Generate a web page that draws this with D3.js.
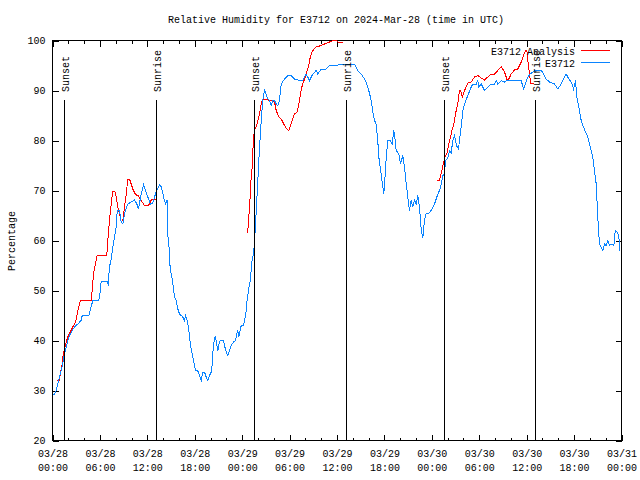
<!DOCTYPE html>
<html>
<head>
<meta charset="utf-8">
<script src="https://cdn.jsdelivr.net/npm/d3@7"></script>
<style>
  body { margin: 0; background: #fff; }
  text { font-family: "Liberation Mono", "DejaVu Sans Mono", monospace; font-size: 10px; fill: #000; }
</style>
</head>
<body>
<svg id="chart" width="640" height="480"></svg>
<script>
// hours after 2024-03-28 00:00 UTC
const stationHours = [0.13,0.47,0.89,1.10,1.30,1.52,1.73,1.94,2.15,2.49,2.78,3.20,3.63,3.76,4.59,4.77,5.10,5.86,6.04,6.16,6.87,7.05,7.21,7.43,7.63,7.85,8.06,8.19,8.48,8.69,8.90,9.11,9.53,9.96,10.38,10.67,10.88,11.22,11.52,11.77,12.06,12.40,12.69,12.91,13.12,13.54,13.79,14.05,14.30,14.51,14.59,14.72,14.81,14.93,15.15,15.31,15.44,15.65,15.86,16.07,16.29,16.49,16.70,16.83,16.99,17.12,17.25,17.42,17.55,17.75,17.88,18.10,18.39,18.60,18.82,19.02,19.23,19.45,19.65,19.87,20.08,20.21,20.37,20.59,20.71,20.92,21.13,21.26,21.64,21.76,21.98,22.18,22.40,22.61,22.90,23.16,23.32,23.45,23.57,23.75,23.88,24.17,24.30,24.51,24.64,24.80,25.02,25.14,25.27,25.43,25.56,25.69,25.85,25.98,26.11,26.28,26.41,26.61,26.83,27.04,27.24,27.46,27.67,27.88,28.09,28.31,28.51,28.72,28.85,28.94,29.36,29.77,30.20,30.62,31.26,31.67,32.10,32.52,32.94,33.37,33.57,34.00,34.63,35.05,35.90,36.32,38.22,38.63,39.06,39.48,39.77,40.02,40.33,40.53,40.75,40.96,41.16,41.29,41.59,41.80,41.92,42.10,42.23,42.43,42.73,42.99,43.19,43.37,43.49,43.82,44.04,44.33,44.54,44.76,44.96,45.17,45.39,45.59,45.81,46.02,46.23,46.44,46.66,46.86,47.07,47.29,47.49,47.92,48.34,48.76,48.97,49.19,49.39,49.60,49.73,50.02,50.24,50.45,50.65,50.87,51.12,51.38,51.54,51.72,51.92,52.13,52.55,52.98,53.19,53.62,53.82,53.95,54.25,54.67,55.08,55.51,55.93,56.15,56.35,56.78,57.20,57.61,58.25,58.88,59.31,59.60,59.85,60.14,60.45,60.78,61.21,61.84,62.13,62.47,62.89,63.52,63.94,64.37,64.79,65.00,65.33,65.64,65.93,66.18,66.35,66.60,66.90,67.19,67.45,67.74,67.95,68.17,68.37,68.58,68.80,68.92,69.09,69.22,69.43,69.64,69.85,70.07,70.27,70.48,70.82,71.03,71.21,71.46,71.67,71.80];
const stationValues = [29,30,32.7,34,35.4,37.4,38.7,40,41,42,42.7,43.3,44,45,45,46,48,48,49.7,51.9,51.9,51.3,54.7,56.3,58.7,60.7,62.7,66,66,63.7,63.3,65.3,67.3,67.7,68.1,67.3,66.3,69.3,71.1,70,68.7,67.3,67.5,68.7,69.7,71.1,70.7,68.7,67.3,68.1,61,59.7,56,54,52.3,50.3,48.7,48,46.3,45.3,45,44.7,44,45,44.3,43.3,42,39.7,38.3,36.7,35.7,34.1,33.9,33,32,33.7,33.7,32.7,32,33,33.7,35.3,39.3,40.8,40,38,39.7,40,40,39,37.7,37,38,39,39.7,40,41.3,42,40.7,42,43,43,44,46,48.3,50,52,54,56.3,57.3,59.7,63.3,68,72,76,80.7,84,88,90,89.3,88.3,88,87,88,88,87.3,87,88,90,91.3,92.3,93,93,92.3,92,92,93.3,92,93.3,94,93.3,94.3,94.3,95,95,95.2,95.2,94,93.3,92.3,91.3,90,88,85.7,84,83.3,80,76.7,73.3,70.7,69.3,73.3,76.7,80,80,79.3,82,80,78,77.3,75.3,77,74.7,71.3,68.7,66,68,66.7,68,67.3,69,66.7,62,60.5,64,65.5,65.3,66,67.3,69.3,70,71.3,73,73.3,76,76.5,78,77.5,80,81,79,78.3,80.7,82.7,86,87.3,89,90.7,91.3,91.3,92,90.7,91.3,90,90.7,91.3,91.3,92,91.3,92,91.7,92.1,92,92.1,92,90.3,91.3,92.7,93.3,93.7,94.1,94.1,93.3,92.3,91.7,91.3,90.3,91.3,92.7,93.3,92.3,91.7,90.3,92,88.7,86.7,84,82.7,81.7,80.7,79.3,78,76.7,74,71.3,67.3,62,59.3,58.7,58,59.3,59,60,59,59.3,59,62,61.7,60.7,58];

// analysis only exists at night; null = gap
const analysisHours = [0.54,0.89,0.97,1.23,1.30,1.52,1.73,1.94,2.24,2.57,2.91,3.07,3.20,3.42,3.54,4.90,5.02,5.19,5.44,5.66,6.87,7.00,7.21,7.43,7.63,7.88,8.06,8.26,8.48,8.69,8.90,9.11,9.33,9.53,9.74,9.96,10.16,10.50,10.88,11.22,11.64,12.06,12.27,12.49,12.69,13.12,
  18,
  24.59,24.71,24.80,24.93,25.06,25.14,25.27,25.35,25.47,25.56,25.78,25.98,26.19,26.41,26.61,27.04,27.37,27.67,28.09,28.31,28.64,28.94,29.14,29.36,29.65,29.90,30.12,30.33,30.62,30.96,31.17,31.38,31.60,31.89,32.10,32.43,32.52,32.74,32.94,33.37,34.00,34.42,35.05,35.47,35.90,36.10,36.82,
  42,
  48.63,48.97,49.16,49.41,49.67,49.89,50.11,50.33,50.55,50.81,51.06,51.29,51.50,51.63,51.85,52.14,52.55,52.98,53.40,53.82,54.25,54.67,55.08,55.51,55.93,56.35,56.78,57.20,57.49,57.74,58.04,58.46,58.88,59.31,59.60,59.85,60.02,60.20,60.36,60.49,60.87];
const analysisValues = [32,32,33.3,35.3,36.7,38.3,39.7,40.7,41.7,42.7,43.7,44.7,46,47.3,48.1,48.1,50,53.3,55.3,57.1,57.1,60,64,67.3,69.9,69.9,68.7,66.7,65.3,63.7,64,66.7,69.3,72.3,72.3,71.3,70.3,69.2,68.9,68,67,67,67.3,68.1,68.3,68.3,
  null,
  61.7,61.7,64,66.7,70,72.7,74.7,78,80.7,82.3,82.7,84,85.3,87.3,88.3,88.3,88,88,87.7,86,84.7,84.3,83.7,83,82.3,82,83,84,85.3,85.7,87.3,89.3,91,92.3,93.3,95,96,97.3,98,98.7,99,99.3,99.7,100,100,99.7,99.7,
  null,
  72,72,73.3,75,76.8,77.3,79,80.5,82,83.5,85.8,87.5,90,90,88.7,90,91.5,91.7,92.7,93,92.5,92.1,92.7,93.3,93.3,94,94.8,93.7,92.3,92.3,93.3,94.1,94.3,95.7,97,97.9,98,95.3,93.3,91.5,91.3];

const sunHours = [1.45, 13.07, 25.47, 37.08, 49.52, 61.03];
const sunLabels = ["Sunset", "Sunrise", "Sunset", "Sunrise", "Sunset", "Sunrise"];

const startTime = Date.UTC(2024, 2, 28);
const endTime = Date.UTC(2024, 2, 31);
const toDate = (h) => new Date(startTime + h * 3600e3);

const svg = d3.select("#chart");
const plotLeft = 52.5, plotRight = 621.5, plotTop = 40.5, plotBottom = 440.5;

const x = d3.scaleUtc().domain([startTime, endTime]).range([plotLeft, plotRight]);
const y = d3.scaleLinear().domain([20, 100]).range([plotBottom, plotTop]);

// Title
svg.append("text")
  .attr("x", 336)
  .attr("y", 23)
  .attr("text-anchor", "middle")
  .text("Relative Humidity for E3712 on 2024-Mar-28 (time in UTC)");

// Axes (gnuplot style: ticks inside, mirrored)
const crisp = (g) => g.attr("shape-rendering", "crispEdges").call((g) => g.select(".domain").remove());

const gx = svg.append("g")
  .attr("transform", `translate(0,${plotBottom})`)
  .call(d3.axisBottom(x).ticks(d3.utcHour.every(6)).tickSize(-6).tickPadding(9).tickFormat(""))
  .call(crisp);
gx.selectAll(".tick text").each(function (d) {
  const t = d3.select(this);
  t.append("tspan").attr("x", 0).text(d3.utcFormat("%m/%d")(d));
  t.append("tspan").attr("x", 0).attr("dy", 14).text(d3.utcFormat("%H:%M")(d));
});
svg.append("g")
  .attr("transform", `translate(0,${plotBottom})`)
  .call(d3.axisBottom(x).ticks(d3.utcHour.every(2)).tickSize(-3).tickFormat(""))
  .call(crisp);
svg.append("g")
  .attr("transform", `translate(0,${plotTop})`)
  .call(d3.axisTop(x).ticks(d3.utcHour.every(6)).tickSize(-6).tickFormat(""))
  .call(crisp);
svg.append("g")
  .attr("transform", `translate(0,${plotTop})`)
  .call(d3.axisTop(x).ticks(d3.utcHour.every(2)).tickSize(-3).tickFormat(""))
  .call(crisp);

svg.append("g")
  .attr("transform", `translate(${plotLeft},0)`)
  .call(d3.axisLeft(y).ticks(8).tickSize(-6).tickPadding(7))
  .call(crisp);
svg.append("g")
  .attr("transform", `translate(${plotRight},0)`)
  .call(d3.axisRight(y).ticks(8).tickSize(-6).tickFormat(""))
  .call(crisp);
svg.selectAll(".tick line").attr("stroke", "#000");
svg.selectAll("g").attr("font-family", null).attr("font-size", null);

// Border
svg.append("rect")
  .attr("x", plotLeft).attr("y", plotTop)
  .attr("width", plotRight - plotLeft).attr("height", plotBottom - plotTop)
  .attr("fill", "none").attr("stroke", "#000")
  .attr("shape-rendering", "crispEdges");

// Y label
svg.append("text")
  .attr("transform", "translate(15,241) rotate(-90)")
  .attr("text-anchor", "middle")
  .text("Percentage");

// Series
svg.append("clipPath").attr("id", "plot")
  .append("rect").attr("x", plotLeft).attr("y", plotTop - 1)
  .attr("width", plotRight - plotLeft).attr("height", plotBottom - plotTop + 1);

const line = d3.line()
  .defined((d) => d.v != null)
  .x((d) => x(toDate(d.h)))
  .y((d) => y(d.v));

const analysis = analysisHours.map((h, i) => ({ h, v: analysisValues[i] }));
const station = stationHours.map((h, i) => ({ h, v: stationValues[i] }));

const plot = svg.append("g").attr("clip-path", "url(#plot)").attr("shape-rendering", "crispEdges");
plot.append("path").datum(analysis)
  .attr("d", line).attr("fill", "none").attr("stroke", "#ff0000").attr("stroke-width", 1);
plot.append("path").datum(station)
  .attr("d", line).attr("fill", "none").attr("stroke", "#0a84ff").attr("stroke-width", 1);

// Sunrise / sunset markers
const sun = svg.append("g").selectAll("g").data(sunHours).join("g");
sun.append("line")
  .attr("x1", (d) => Math.round(x(toDate(d))) + 0.5)
  .attr("x2", (d) => Math.round(x(toDate(d))) + 0.5)
  .attr("y1", y(88.2)).attr("y2", plotBottom)
  .attr("stroke", "#000").attr("shape-rendering", "crispEdges");
sun.append("text")
  .attr("transform", (d) => `translate(${x(toDate(d)) + 5},92) rotate(-90)`)
  .text((d, i) => sunLabels[i]);

// Legend
const legend = [
  { name: "E3712 Analysis", color: "#ff0000", ty: 54.5, ly: 50.5 },
  { name: "E3712", color: "#0a84ff", ty: 67, ly: 62.5 }
];
const lg = svg.append("g").selectAll("g").data(legend).join("g");
lg.append("text").attr("x", 575).attr("y", (d) => d.ty).attr("text-anchor", "end").text((d) => d.name);
lg.append("line")
  .attr("x1", 581).attr("x2", 610)
  .attr("y1", (d) => d.ly).attr("y2", (d) => d.ly)
  .attr("stroke", (d) => d.color).attr("shape-rendering", "crispEdges");
</script>
</body>
</html>
